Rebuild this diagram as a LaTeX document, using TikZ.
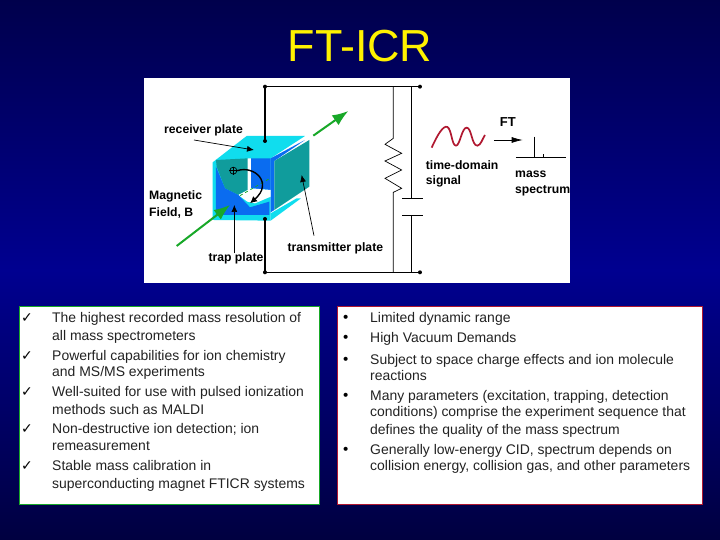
\documentclass[tikz,border=0pt]{standalone}
\usepackage{fontspec}
\setmainfont{Liberation Sans}
\newfontfamily\symfont{DejaVu Sans}
\usetikzlibrary{arrows.meta}
\definecolor{bgdark}{HTML}{00004C}
\definecolor{bgmid}{HTML}{000090}
\definecolor{bgend}{HTML}{000040}
\definecolor{txt}{HTML}{222222}
\definecolor{cyanp}{HTML}{10DDEE}
\definecolor{tealp}{HTML}{109C9C}
\definecolor{bluep}{HTML}{0A6CF0}
\definecolor{greenp}{HTML}{18A828}
\definecolor{redp}{HTML}{B01830}
\tikzset{
 line/.style={anchor=base west,inner sep=0pt,font=\fontsize{13.95}{15}\selectfont,text=txt},
 mk/.style={anchor=base,inner sep=0pt,font=\symfont\fontsize{14}{15}\selectfont,text=black},
 lab/.style={anchor=west,inner sep=0pt,font=\bfseries\fontsize{12.2}{14}\selectfont,text=black},
 wire/.style={draw=black,line width=1.5pt},
 thin wire/.style={draw=black,line width=0.7pt},
 pointer/.style={draw=black,line width=0.7pt,-{Latex[length=7pt,width=6pt]}},
 gren/.style={draw=greenp,line width=2pt,-{Latex[length=16pt,width=12pt]}},
 dot/.style={circle,fill=black,inner sep=0pt,minimum size=4pt},
 panel/.style={fill=white,line width=1.2pt}
}
\begin{document}
\begin{tikzpicture}[x=1pt,y=-1pt]
\useasboundingbox (0,0) rectangle (720,540);
\shade[top color=bgdark,bottom color=bgend,middle color=bgmid] (0,0) rectangle (720,540);
\node[inner sep=0pt,text=yellow,font=\fontsize{44.9}{46}\selectfont] (title) at (360,46) {FT-ICR};
\fill[white] (144,78) rectangle (570,283);
\begin{scope}[shift={(140,75)},x=0.3333pt,y=-0.3333pt]
 \fill[cyanp] (218,262) -- (320,183) -- (495,183) -- (392,250) -- (392,437) -- (218,435) -- cycle;
 \fill[cyanp] (392,437) -- (392,415) -- (470,370) -- (483,370) -- cycle;
 \fill[bluep] (392,250) -- (495,195) -- (403,258) -- (403,405) -- (392,412) -- cycle;
 \fill[tealp] (403,258) -- (508,195) -- (508,335) -- (403,405) -- cycle;
 \fill[tealp] (228,255) -- (325,250) -- (325,345) -- (295,360) -- (255,340) -- (230,275) -- cycle;
 \fill[bluep] (333,250) -- (392,250) -- (392,345) -- (333,340) -- cycle;
 \fill[white] (323,250) -- (333,250) -- (333,340) -- (392,345) -- (392,365) -- (345,385) -- (322,380) -- (295,360) -- (323,345) -- cycle;
 \fill[bluep] (228,275) -- (255,340) -- (295,360) -- (330,397) -- (388,380) -- (388,420) -- (228,420) -- cycle;
 \draw[greenp,line width=0.8pt,dashed] (300,362) -- (390,310);
 \coordinate (gA) at (110,513);
 \coordinate (gB) at (270,390);
 \coordinate (gC) at (520,182);
 \coordinate (gD) at (625,108);
 \draw[gren] (gA) -- (gB);
 \draw[gren] (gC) -- (gD);
 \node[circle,draw=black,line width=0.7pt,inner sep=0pt,minimum size=7pt] (ion) at (280,287) {};
 \draw[black,line width=0.7pt] (ion.west) -- (ion.east) (ion.north) -- (ion.south);
 \coordinate (ionend) at (330,385);
 \draw[black,line width=1.4pt,-{Latex[length=7pt,width=7pt]}] (ion.east) .. controls (345,270) and (400,325) .. (ionend);
 \node[lab] (recv) at (72,165) {receiver plate};
 \node[lab] (magn) at (27,365) {Magnetic};
 \node[lab] (fieldb) at (27,415) {Field, B};
 \node[lab] (trap) at (205,550) {trap plate};
 \node[lab] (trans) at (442,520) {transmitter plate};
 \coordinate (rA) at (162,195);
 \coordinate (rB) at (342,225);
 \coordinate (tA) at (283,535);
 \coordinate (tB) at (283,390);
 \coordinate (xA) at (522,482);
 \coordinate (xB) at (485,300);
 \draw[pointer] (rA) -- (rB);
 \draw[pointer] (tA) -- (tB);
 \draw[pointer] (xA) -- (xB);
 \coordinate (wTL) at (375,35);
 \coordinate (wTM) at (375,198);
 \coordinate (wBM) at (375,432);
 \coordinate (wBL) at (375,592);
 \coordinate (wTR) at (840,35);
 \coordinate (wBR) at (840,592);
 \draw[wire] (wTM) -- (wTL) -- (wTR);
 \draw[wire] (wBM) -- (wBL) -- (wBR);
 \node[dot] at (wTL) {};
 \node[dot] at (wBL) {};
 \node[dot] at (wTM) {};
 \node[dot] at (wBM) {};
 \node[dot] at (wTR) {};
 \node[dot] at (wBR) {};
\end{scope}
\begin{scope}[shift={(350,75)},x=0.3333pt,y=-0.3333pt]
 \coordinate (a1) at (130,35);
 \coordinate (a2) at (130,592);
 \coordinate (b1) at (185,35);
 \coordinate (b2) at (185,592);
 \coordinate (c1) at (185,370);
 \coordinate (c2) at (185,420);
 \draw[thin wire] (a1) -- (130,190) -- (105,208) -- (155,235) -- (105,258) -- (155,285) -- (105,310) -- (155,340) -- (130,352) -- (a2);
 \draw[thin wire] (b1) -- (c1) (c2) -- (b2);
 \draw[thin wire] (157,370) -- (220,370) (157,420) -- (220,420);
 \draw[redp,line width=1.7pt] (245,218) .. controls (262,180) and (280,150) .. (292,156) .. controls (305,162) and (305,212) .. (318,212) .. controls (330,212) and (335,158) .. (350,158) .. controls (365,158) and (365,212) .. (382,212) .. controls (392,212) and (398,190) .. (405,180);
 \node[lab,font=\bfseries\fontsize{13}{14}\selectfont] (ft) at (449,140) {FT};
 \coordinate (fA) at (432,195);
 \coordinate (fB) at (518,195);
 \draw[black,line width=0.7pt,-{Latex[length=11pt,width=6pt]}] (fA) -- (fB);
 \coordinate (pk) at (553,185);
 \coordinate (pb) at (553,247);
 \draw[thin wire] (498,247) -- (648,247) (pk) -- (pb) (580,238) -- (580,247);
 \node[lab] (td) at (227,270) {time-domain};
 \node[lab] (sg) at (227,320) {signal};
 \node[lab] (ms) at (495,298) {mass};
 \node[lab] (sp) at (495,347) {spectrum};
\end{scope}
\node[panel,draw=greenp,anchor=north west,minimum width=300pt,minimum height=198pt,inner sep=0pt] (left) at (18.5,306) {};
\node[panel,draw=redp,anchor=north west,minimum width=365.5pt,minimum height=198pt,inner sep=0pt] (right) at (336.7,306) {};
\foreach \n/\y in {1/322.7,2/360,3/396.7,4/433,5/470.7}{\node[mk] (c\n) at (27,\y) {✓};}
\node[line] (l1) at (52,322.7) {The highest recorded mass resolution of};
\node[line] (l2) at (52,340) {all mass spectrometers};
\node[line] (l3) at (52,360) {Powerful capabilities for ion chemistry};
\node[line] (l4) at (52,376.7) {and MS/MS experiments};
\node[line] (l5) at (52,396.7) {Well-suited for use with pulsed ionization};
\node[line] (l6) at (52,414) {methods such as MALDI};
\node[line] (l7) at (52,433) {Non-destructive ion detection; ion};
\node[line] (l8) at (52,450.7) {remeasurement};
\node[line] (l9) at (52,470.7) {Stable mass calibration in};
\node[line] (l10) at (52,488) {superconducting magnet FTICR systems};
\foreach \n/\y in {1/322.7,2/342.7,3/364,4/400,5/454}{\node[mk] (b\n) at (345.7,\y) {•};}
\node[line] (r1) at (370,322.7) {Limited dynamic range};
\node[line] (r2) at (370,342.7) {High Vacuum Demands};
\node[line] (r3) at (370,364) {Subject to space charge effects and ion molecule};
\node[line] (r4) at (370,380) {reactions};
\node[line] (r5) at (370,400) {Many parameters (excitation, trapping, detection};
\node[line] (r6) at (370,416.7) {conditions) comprise the experiment sequence that};
\node[line] (r7) at (370,434) {defines the quality of the mass spectrum};
\node[line] (r8) at (370,454) {Generally low-energy CID, spectrum depends on};
\node[line] (r9) at (370,470.7) {collision energy, collision gas, and other parameters};
\end{tikzpicture}
\end{document}
